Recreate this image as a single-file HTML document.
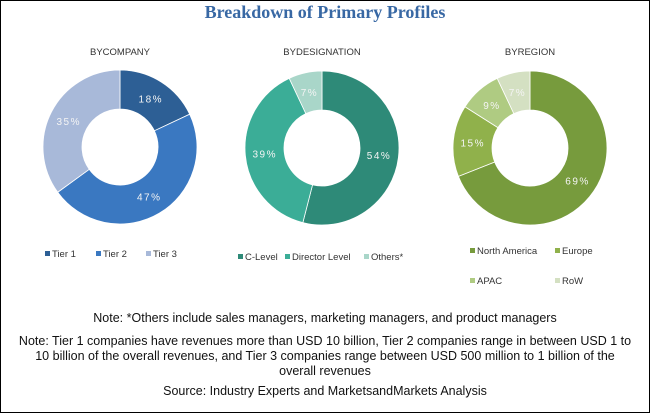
<!DOCTYPE html>
<html><head><meta charset="utf-8"><style>
body{margin:0;width:650px;height:413px;overflow:hidden;background:#fff;font-family:"Liberation Sans",sans-serif}
#wrap{position:absolute;left:0;top:0;width:648px;height:411px;border:1px solid #000;}
.note{position:absolute;left:0;width:650px;text-align:center;font-size:12.5px;color:#111;line-height:15px;font-family:"Liberation Sans Narrow","Liberation Sans",sans-serif}
</style></head><body>
<div id="wrap"></div>
<svg id="svg" width="650" height="413" style="position:absolute;left:0;top:0">
<text x="325" y="18" text-anchor="middle" font-family="Liberation Serif,serif" font-weight="bold" font-size="18" fill="#3868a4">Breakdown of Primary Profiles</text>
</svg>
<div class="note" style="top:311px">Note: *Others include sales managers, marketing managers, and product managers</div>
<div class="note" style="top:334px">Note: Tier 1 companies have revenues more than USD 10 billion, Tier 2 companies range in between USD 1 to<br>10 billion of the overall revenues, and Tier 3 companies range between USD 500 million to 1 billion of the<br>overall revenues</div>
<div class="note" style="top:384px">Source: Industry Experts and MarketsandMarkets Analysis</div>
<script>
const companyCats=["Tier 1","Tier 2","Tier 3"];
const companyVals=[18,47,35];
const designationCats=["C-Level","Director Level","Others*"];
const designationVals=[54,39,7];
const regionCats=["North America","Europe","APAC","RoW"];
const regionVals=[69,15,9,7];
const svg=document.getElementById('svg');
const NS='http://www.w3.org/2000/svg';
function mk(t,a){const e=document.createElementNS(NS,t);for(const k in a)e.setAttribute(k,a[k]);svg.appendChild(e);return e;}
function donut(id,title,cats,vals,colors,cx,cy,legend){
  const t=mk('text',{x:cx,y:55,'text-anchor':'middle','font-size':'9.5',fill:'#333','font-family':'Liberation Sans Narrow,Liberation Sans,sans-serif'});
  
  
  t.textContent=title;
  const R=77,r=38,tot=vals.reduce((a,b)=>a+b,0);let a0=0;
  vals.forEach((v,i)=>{
    const a1=a0+v/tot*2*Math.PI;
    const p=(a,rad)=>[cx+rad*Math.sin(a),cy-rad*Math.cos(a)];
    const [x0,y0]=p(a0,R),[x1,y1]=p(a1,R),[x2,y2]=p(a1,r),[x3,y3]=p(a0,r);
    const lg=(a1-a0)>Math.PI?1:0;
    const s=mk('path',{d:`M${x0},${y0}A${R},${R} 0 ${lg} 1 ${x1},${y1}L${x2},${y2}A${r},${r} 0 ${lg} 0 ${x3},${y3}Z`,fill:colors[i],stroke:'#fff','stroke-width':'0.8'});
    
    
    const am=(a0+a1)/2,[lx,ly]=p(am,(R+r)/2);
    const l=mk('text',{x:lx,y:ly+4,'text-anchor':'middle','font-size':'10',fill:'#f4f4f4','letter-spacing':'1.5','font-family':'Liberation Sans Narrow,Liberation Sans,sans-serif'});
    
    
    l.textContent=v+'%';
    a0=a1;
  });
  cats.forEach((c,i)=>{
    const [lx,ly]=legend[i];
    const sq=mk('rect',{x:lx,y:ly-6,width:5,height:5,fill:colors[i]});
    
    
    const lt=mk('text',{x:lx+7,y:ly,'font-size':'9.5',fill:'#333','font-family':'Liberation Sans Narrow,Liberation Sans,sans-serif'});
    
    
    lt.textContent=c;
  });
}
donut('company','BYCOMPANY',companyCats,companyVals,['#2d5f95','#3a78c1','#a8b9d9'],120,147,[[45,257],[96,257],[146,257]]);
donut('designation','BYDESIGNATION',designationCats,designationVals,['#2e8a78','#3bad97','#a9d6c9'],322,148,[[238,260],[285,260],[364,260]]);
donut('region','BYREGION',regionCats,regionVals,['#779b3d','#90b14b','#afcb82','#d4e0c2'],530,148,[[470,254],[555,254],[470,284],[555,284]]);
</script>
</body></html>
